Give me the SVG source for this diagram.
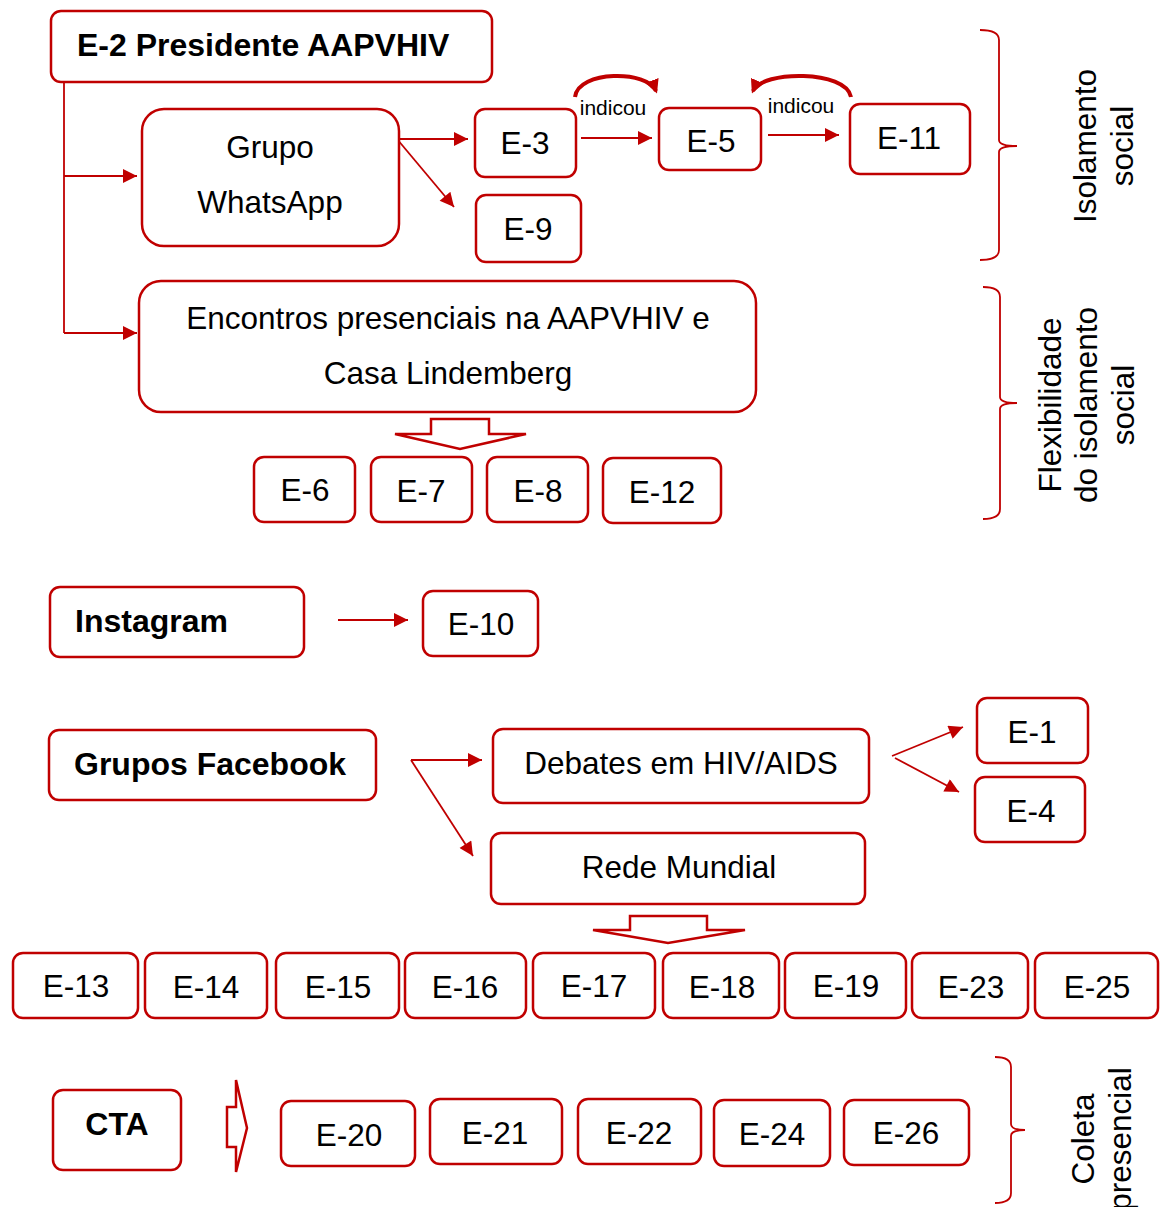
<svg xmlns="http://www.w3.org/2000/svg" width="1165" height="1207" viewBox="0 0 1165 1207">
<style>
.box{fill:#fff;stroke:#C00000;stroke-width:2.5}
.t{font-family:"Liberation Sans",Arial,sans-serif;font-size:31.5px;fill:#000;text-anchor:middle;dominant-baseline:central}
.b{font-family:"Liberation Sans",Arial,sans-serif;font-size:32px;font-weight:bold;fill:#000;dominant-baseline:central}
.s{font-family:"Liberation Sans",Arial,sans-serif;font-size:21px;fill:#000;text-anchor:middle;dominant-baseline:central}
.c{fill:none;stroke:#C00000;stroke-width:1.8}
.cv{fill:none;stroke:#C00000;stroke-width:4}
.hol{fill:#fff;stroke:#C00000;stroke-width:2.5;stroke-linejoin:miter}
.br{fill:none;stroke:#C00000;stroke-width:1.8}
</style>
<defs>
<marker id="ah" viewBox="0 0 10 10" refX="10" refY="5" markerWidth="15" markerHeight="14" markerUnits="userSpaceOnUse" orient="auto">
<path d="M0,0 L10,5 L0,10 z" fill="#C00000"/>
</marker>
<marker id="ahc" viewBox="0 0 10 10" refX="8" refY="5" markerWidth="14" markerHeight="14" markerUnits="userSpaceOnUse" orient="auto">
<path d="M0,0 L10,5 L0,10 z" fill="#C00000"/>
</marker>
</defs>

<g id="connectors">
<polyline class="c" points="64,82 64,333"/>
<line class="c" x1="64" y1="176" x2="137" y2="176" marker-end="url(#ah)"/>
<line class="c" x1="64" y1="333" x2="137" y2="333" marker-end="url(#ah)"/>
<line class="c" x1="397" y1="139" x2="468" y2="139" marker-end="url(#ah)"/>
<line class="c" x1="397" y1="139" x2="454" y2="207" marker-end="url(#ah)"/>
<line class="c" x1="581" y1="138" x2="652" y2="138" marker-end="url(#ah)"/>
<line class="c" x1="768" y1="135" x2="839" y2="135" marker-end="url(#ah)"/>
<path class="cv" d="M575,97 C578,70 648,70 656,91" marker-end="url(#ahc)"/>
<path class="cv" d="M851,97 C846,70 762,70 753,91" marker-end="url(#ahc)"/>
<line class="c" x1="338" y1="620" x2="408" y2="620" marker-end="url(#ah)"/>
<line class="c" x1="411" y1="760" x2="482" y2="760" marker-end="url(#ah)"/>
<line class="c" x1="411" y1="760" x2="473" y2="856" marker-end="url(#ah)"/>
<line class="c" x1="892" y1="756" x2="963" y2="727" marker-end="url(#ah)"/>
<line class="c" x1="895" y1="758" x2="959" y2="792" marker-end="url(#ah)"/>
<polygon class="hol" points="431,419 489,419 489,434 526,434 460,449 395,434 431,434"/>
<polygon class="hol" points="630,916 707,916 707,930 745,930 668,943 593,930 630,930"/>
<polygon class="hol" points="227,1107 236,1107 236,1080 247,1128 236,1172 236,1147 227,1147"/>
<path class="br" d="M980,30 Q999,30 999,40 L999,140 Q999,146 1017,146 Q999,146 999,152 L999,250 Q999,260 980,260"/>
<path class="br" d="M983,287 Q1000,287 1000,297 L1000,397 Q1000,403 1017,403 Q1000,403 1000,409 L1000,509 Q1000,519 983,519"/>
<path class="br" d="M995,1057 Q1011,1057 1011,1067 L1011,1124 Q1011,1130 1025,1130 Q1011,1130 1011,1136 L1011,1193 Q1011,1203 995,1203"/>
</g>

<text class="s" x="613" y="107">indicou</text>
<text class="s" x="801" y="105">indicou</text>

<g id="n-e2"><rect class="box" x="51" y="11" width="441" height="71" rx="10"/><text class="b" x="77" y="45">E-2 Presidente AAPVHIV</text></g>
<g id="n-whatsapp"><rect class="box" x="142" y="109" width="257" height="137" rx="22"/><text class="t" x="270" y="147">Grupo</text><text class="t" x="270" y="202">WhatsApp</text></g>
<g id="n-e3"><rect class="box" x="475" y="109" width="101" height="68" rx="10"/><text class="t" x="525" y="143">E-3</text></g>
<g id="n-e9"><rect class="box" x="476" y="195" width="105" height="67" rx="10"/><text class="t" x="528" y="229">E-9</text></g>
<g id="n-e5"><rect class="box" x="659" y="108" width="102" height="62" rx="10"/><text class="t" x="711" y="141">E-5</text></g>
<g id="n-e11"><rect class="box" x="850" y="104" width="120" height="70" rx="10"/><text class="t" x="909" y="138">E-11</text></g>
<g id="n-encontros"><rect class="box" x="139" y="281" width="617" height="131" rx="22"/><text class="t" x="448" y="318">Encontros presenciais na AAPVHIV e</text><text class="t" x="448" y="373">Casa Lindemberg</text></g>
<g id="n-e6"><rect class="box" x="254" y="457" width="101" height="65" rx="10"/><text class="t" x="305" y="490">E-6</text></g>
<g id="n-e7"><rect class="box" x="371" y="457" width="101" height="65" rx="10"/><text class="t" x="421" y="491">E-7</text></g>
<g id="n-e8"><rect class="box" x="487" y="457" width="101" height="65" rx="10"/><text class="t" x="538" y="491">E-8</text></g>
<g id="n-e12"><rect class="box" x="603" y="458" width="118" height="65" rx="10"/><text class="t" x="662" y="492">E-12</text></g>
<g id="n-instagram"><rect class="box" x="50" y="587" width="254" height="70" rx="10"/><text class="b" x="75" y="621">Instagram</text></g>
<g id="n-e10"><rect class="box" x="423" y="591" width="115" height="65" rx="10"/><text class="t" x="481" y="624">E-10</text></g>
<g id="n-facebook"><rect class="box" x="49" y="730" width="327" height="70" rx="10"/><text class="b" x="74" y="764">Grupos Facebook</text></g>
<g id="n-debates"><rect class="box" x="493" y="729" width="376" height="74" rx="10"/><text class="t" x="681" y="763">Debates em HIV/AIDS</text></g>
<g id="n-rede"><rect class="box" x="491" y="833" width="374" height="71" rx="10"/><text class="t" x="679" y="867">Rede Mundial</text></g>
<g id="n-e1"><rect class="box" x="977" y="698" width="111" height="65" rx="10"/><text class="t" x="1032" y="732">E-1</text></g>
<g id="n-e4"><rect class="box" x="975" y="777" width="110" height="65" rx="10"/><text class="t" x="1031" y="811">E-4</text></g>
<g id="n-e13"><rect class="box" x="13" y="953" width="125" height="65" rx="10"/><text class="t" x="76" y="986">E-13</text></g>
<g id="n-e14"><rect class="box" x="145" y="953" width="122" height="65" rx="10"/><text class="t" x="206" y="987">E-14</text></g>
<g id="n-e15"><rect class="box" x="276" y="953" width="123" height="65" rx="10"/><text class="t" x="338" y="987">E-15</text></g>
<g id="n-e16"><rect class="box" x="405" y="953" width="121" height="65" rx="10"/><text class="t" x="465" y="987">E-16</text></g>
<g id="n-e17"><rect class="box" x="533" y="953" width="122" height="65" rx="10"/><text class="t" x="594" y="986">E-17</text></g>
<g id="n-e18"><rect class="box" x="663" y="953" width="116" height="65" rx="10"/><text class="t" x="722" y="987">E-18</text></g>
<g id="n-e19"><rect class="box" x="785" y="953" width="121" height="65" rx="10"/><text class="t" x="846" y="986">E-19</text></g>
<g id="n-e23"><rect class="box" x="912" y="953" width="116" height="65" rx="10"/><text class="t" x="971" y="987">E-23</text></g>
<g id="n-e25"><rect class="box" x="1035" y="953" width="123" height="65" rx="10"/><text class="t" x="1097" y="987">E-25</text></g>
<g id="n-cta"><rect class="box" x="53" y="1090" width="128" height="80" rx="10"/><text class="b" x="117" y="1124" text-anchor="middle">CTA</text></g>
<g id="n-e20"><rect class="box" x="281" y="1101" width="134" height="65" rx="10"/><text class="t" x="349" y="1135">E-20</text></g>
<g id="n-e21"><rect class="box" x="430" y="1099" width="132" height="65" rx="10"/><text class="t" x="495" y="1133">E-21</text></g>
<g id="n-e22"><rect class="box" x="578" y="1099" width="123" height="65" rx="10"/><text class="t" x="639" y="1133">E-22</text></g>
<g id="n-e24"><rect class="box" x="714" y="1100" width="116" height="66" rx="10"/><text class="t" x="772" y="1134">E-24</text></g>
<g id="n-e26"><rect class="box" x="844" y="1100" width="125" height="65" rx="10"/><text class="t" x="906" y="1133">E-26</text></g>

<g id="label-isolamento">
<text class="t" transform="translate(1085,146) rotate(-90)">Isolamento</text>
<text class="t" transform="translate(1122,146) rotate(-90)">social</text>
</g>
<g id="label-flexibilidade">
<text class="t" transform="translate(1050,405) rotate(-90)">Flexibilidade</text>
<text class="t" transform="translate(1086,405) rotate(-90)">do isolamento</text>
<text class="t" transform="translate(1123,405) rotate(-90)">social</text>
</g>
<g id="label-coleta">
<text class="t" transform="translate(1083,1139) rotate(-90)">Coleta</text>
<text class="t" transform="translate(1120,1139) rotate(-90)">presencial</text>
</g>
</svg>
